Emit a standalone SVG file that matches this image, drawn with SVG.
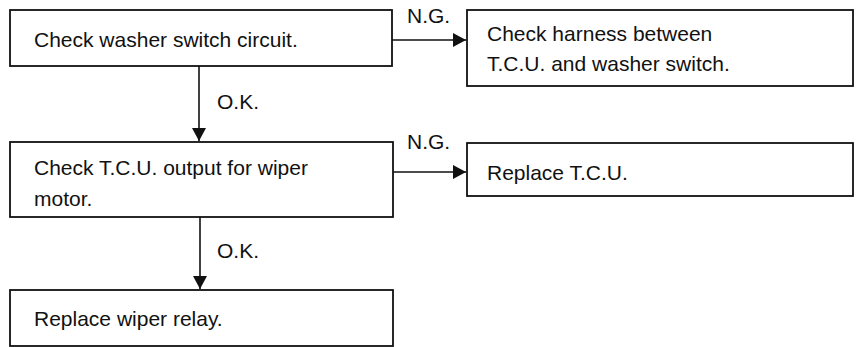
<svg xmlns="http://www.w3.org/2000/svg" width="861" height="347" viewBox="0 0 861 347">
  <style>
    .box { fill: #ffffff; stroke: #111111; stroke-width: 1.8; }
    .txt { font-family: "Liberation Sans", Arial, Helvetica, sans-serif; font-size: 21px; fill: #111111; }
    .conn { stroke: #111111; stroke-width: 1.6; fill: none; marker-end: url(#arrow); }
  </style>
  <defs>
    <marker id="arrow" viewBox="0 0 13 14" refX="13" refY="7" markerWidth="13" markerHeight="14" markerUnits="userSpaceOnUse" orient="auto">
      <path d="M0,0 L13,7 L0,14 Z" fill="#111111"/>
    </marker>
  </defs>
  <rect width="861" height="347" fill="#ffffff"/>

  <g id="connectors">
    <line class="conn" x1="392" y1="40" x2="466" y2="40"/>
    <line class="conn" x1="393" y1="172" x2="466" y2="172"/>
    <line class="conn" x1="199" y1="66" x2="199" y2="141"/>
    <line class="conn" x1="200" y1="217" x2="200" y2="289"/>
    <text class="txt" x="407" y="23">N.G.</text>
    <text class="txt" x="407" y="149">N.G.</text>
    <text class="txt" x="217" y="109">O.K.</text>
    <text class="txt" x="217" y="258">O.K.</text>
  </g>

  <g id="check-washer-switch">
    <rect class="box" x="10" y="10" width="382" height="56"/>
    <text class="txt" x="34" y="47">Check washer switch circuit.</text>
  </g>

  <g id="check-harness">
    <rect class="box" x="467" y="10" width="386" height="76"/>
    <text class="txt" x="487" y="41">Check harness between</text>
    <text class="txt" x="487" y="71">T.C.U. and washer switch.</text>
  </g>

  <g id="check-tcu-output">
    <rect class="box" x="10" y="142" width="383" height="75"/>
    <text class="txt" x="34" y="175">Check T.C.U. output for wiper</text>
    <text class="txt" x="34" y="206">motor.</text>
  </g>

  <g id="replace-tcu">
    <rect class="box" x="467" y="143" width="386" height="53"/>
    <text class="txt" x="487" y="180">Replace T.C.U.</text>
  </g>

  <g id="replace-wiper-relay">
    <rect class="box" x="10" y="290" width="383" height="56"/>
    <text class="txt" x="34" y="326">Replace wiper relay.</text>
  </g>
</svg>
